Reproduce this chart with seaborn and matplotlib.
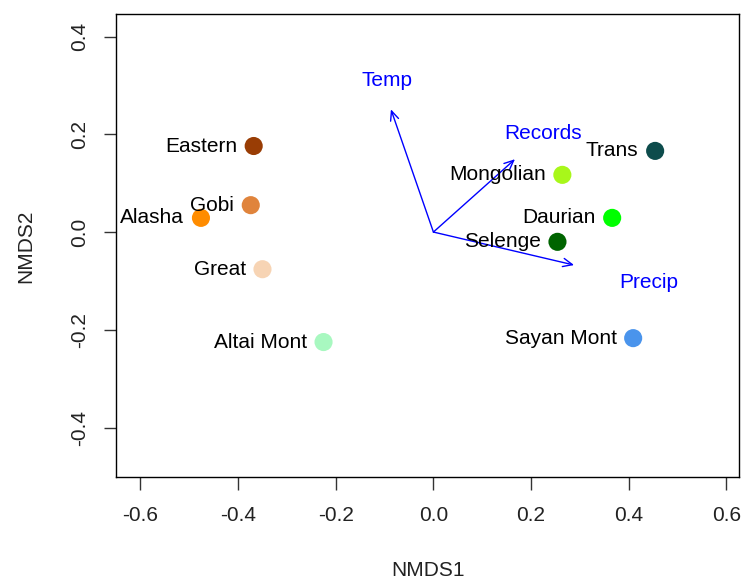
import matplotlib
matplotlib.use("Agg")
import matplotlib.pyplot as plt
import seaborn as sns
import pandas as pd

# Site scores from the NMDS ordination
sites = ["Eastern", "Gobi", "Alasha", "Great", "Altai Mont",
         "Mongolian", "Trans", "Daurian", "Selenge", "Sayan Mont"]
nmds1 = [-0.368, -0.374, -0.476, -0.350, -0.225,
         0.264, 0.454, 0.366, 0.254, 0.409]
nmds2 = [0.176, 0.055, 0.029, -0.076, -0.225,
         0.117, 0.166, 0.029, -0.020, -0.217]
site_colors = ["#993D05", "#E0843C", "#FF8C00", "#F7D4B4", "#A8F8C0",
               "#A8F71A", "#0D4C4C", "#00FF00", "#006400", "#4A94EC"]

# Fitted environmental vectors
env_vars = ["Temp", "Records", "Precip"]
env_x = [-0.087, 0.167, 0.288]
env_y = [0.251, 0.149, -0.0675]
env_label_x = [-0.096, 0.224, 0.440]
env_label_y = [0.311, 0.202, -0.104]

x_ticks = [-0.6, -0.4, -0.2, 0.0, 0.2, 0.4, 0.6]
y_ticks = [-0.4, -0.2, 0.0, 0.2, 0.4]

df = pd.DataFrame({"site": sites, "NMDS1": nmds1, "NMDS2": nmds2})

sns.set_style("white")
plt.rcParams["font.family"] = ["Liberation Sans", "DejaVu Sans"]
plt.rcParams["font.size"] = 15

fig = plt.figure(figsize=(7.41, 5.79), dpi=100)
ax = fig.add_axes([0.1565, 0.1762, 0.8410, 0.7996])

sns.scatterplot(data=df, x="NMDS1", y="NMDS2", hue="site",
                palette=dict(zip(sites, site_colors)), s=170,
                edgecolor="none", linewidth=0, legend=False, ax=ax, zorder=3)

for name, x, y in zip(sites, nmds1, nmds2):
    ax.annotate(name, (x, y), xytext=(-12, 0), textcoords="offset points",
                ha="right", va="center", fontsize=15, color="black", zorder=4)

for name, x, y, lx, ly in zip(env_vars, env_x, env_y, env_label_x, env_label_y):
    ax.annotate("", xy=(x, y), xytext=(0, 0),
                arrowprops=dict(arrowstyle="->,head_length=0.45,head_width=0.2",
                                color="blue", lw=1, shrinkA=0, shrinkB=0),
                zorder=2)
    ax.text(lx, ly, name, ha="center", va="center", color="blue", fontsize=15)

ax.set_xlim(-0.65, 0.626)
ax.set_ylim(-0.501, 0.446)
ax.set_xticks(x_ticks)
ax.set_yticks(y_ticks)
ax.set_xticklabels([f"{v:.1f}" for v in x_ticks])
ax.set_yticklabels([f"{v:.1f}" for v in y_ticks], rotation=90, va="center")
ax.tick_params(axis="both", which="major", bottom=True, left=True,
               direction="out", length=9, width=1,
               color="#333333", labelsize=15, labelcolor="#222222")
ax.tick_params(axis="x", pad=12)
ax.tick_params(axis="y", pad=10.5)
for sp in ax.spines.values():
    sp.set_color("black")
    sp.set_linewidth(1)

ax.set_xlabel("NMDS1", fontsize=15, color="#222222")
ax.set_ylabel("NMDS2", fontsize=15, color="#222222")
ax.xaxis.set_label_coords(0.5, -0.201)
ax.xaxis.label.set_va("center")
ax.yaxis.set_label_coords(-0.1445, 0.499)
ax.yaxis.label.set_va("center")

fig.savefig("out.png", dpi=100)
